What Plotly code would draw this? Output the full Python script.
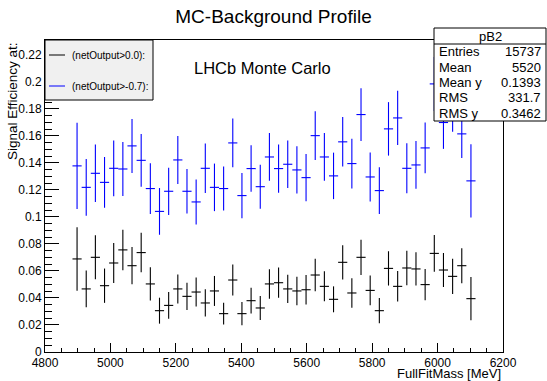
import plotly.graph_objects as go

# ---- data ----
bin_centers = [4898, 4926, 4954, 4982, 5010, 5038, 5066, 5094, 5122, 5150,
               5178, 5206, 5234, 5262, 5290, 5318, 5346, 5374, 5402, 5430,
               5458, 5486, 5514, 5542, 5570, 5598, 5626, 5654, 5682, 5710,
               5738, 5766, 5794, 5822, 5850, 5878, 5906, 5934, 5962, 5990,
               6018, 6046, 6074, 6102]
bin_half_width = [14] * len(bin_centers)

eff_07 = [0.1378, 0.1219, 0.1323, 0.1256, 0.1360, 0.1355, 0.1526, 0.1419, 0.1210, 0.1041,
          0.1190, 0.1422, 0.1190, 0.1111, 0.1360, 0.1219, 0.1210, 0.1548, 0.1158, 0.1358,
          0.1224, 0.1444, 0.1358, 0.1390, 0.1348, 0.1291, 0.1602, 0.1444, 0.1304, 0.1556,
          0.1395, 0.1758, 0.1296, 0.1195, 0.1652, 0.1733, 0.1360, 0.1385, 0.1511, 0.1985,
          0.1699, 0.1830, 0.1615, 0.1267]
err_07 = [0.0320, 0.0210, 0.0213, 0.0188, 0.0206, 0.0200, 0.0200, 0.0195, 0.0188, 0.0173,
          0.0175, 0.0178, 0.0165, 0.0167, 0.0183, 0.0176, 0.0163, 0.0181, 0.0167, 0.0172,
          0.0163, 0.0177, 0.0179, 0.0175, 0.0175, 0.0175, 0.0181, 0.0177, 0.0172, 0.0183,
          0.0184, 0.0195, 0.0181, 0.0173, 0.0198, 0.0201, 0.0185, 0.0177, 0.0188, 0.0200,
          0.0195, 0.0200, 0.0178, 0.0272]

eff_00 = [0.0689, 0.0467, 0.0701, 0.0491, 0.0659, 0.0756, 0.0639, 0.0736, 0.0504, 0.0306,
          0.0345, 0.0467, 0.0412, 0.0444, 0.0363, 0.0452, 0.0284, 0.0533, 0.0284, 0.0380,
          0.0326, 0.0504, 0.0513, 0.0467, 0.0452, 0.0461, 0.0570, 0.0486, 0.0390, 0.0664,
          0.0437, 0.0701, 0.0456, 0.0306, 0.0619, 0.0486, 0.0622, 0.0615, 0.0499, 0.0730,
          0.0607, 0.0560, 0.0639, 0.0395]
err_00 = [0.0235, 0.0136, 0.0163, 0.0127, 0.0148, 0.0150, 0.0138, 0.0146, 0.0123, 0.0096,
          0.0099, 0.0107, 0.0101, 0.0107, 0.0101, 0.0111, 0.0081, 0.0115, 0.0086, 0.0095,
          0.0089, 0.0109, 0.0112, 0.0105, 0.0106, 0.0109, 0.0120, 0.0111, 0.0096, 0.0127,
          0.0109, 0.0131, 0.0110, 0.0094, 0.0127, 0.0113, 0.0127, 0.0123, 0.0116, 0.0136,
          0.0126, 0.0130, 0.0130, 0.0160]

legend_labels = ["(netOutput>0.0):", "(netOutput>-0.7):"]
stats_names = ["Entries", "Mean", "Mean y", "RMS", "RMS y"]
stats_values = ["15737", "5520", "0.1393", "331.7", "0.3462"]

FONT = "Liberation Sans, Arial, Helvetica, sans-serif"
W, H = 547, 381
L, R, T, B = 45, 44, 40, 29
PW, PH = W - L - R, H - T - B


def xp(px):
    return (px - L) / PW


def yp(py):
    return (H - B - py) / PH


fig = go.Figure()
for vals, errs, col in [(eff_00, err_00, "#000000"), (eff_07, err_07, "#0000ff")]:
    fig.add_trace(go.Scatter(
        x=bin_centers, y=vals, mode="markers",
        marker=dict(size=0.1, color=col, opacity=0),
        error_y=dict(type="data", array=errs, visible=True, color=col, thickness=1.1, width=0),
        error_x=dict(type="data", array=bin_half_width, visible=True, color=col, thickness=1.1, width=0),
        showlegend=False, hoverinfo="skip",
    ))

axis_common = dict(showline=True, linecolor="#000000", linewidth=1, mirror=True,
                   ticks="inside", tickcolor="#000000", showgrid=False, zeroline=False,
                   tickfont=dict(family=FONT, size=12, color="#000000"))

fig.update_layout(
    width=W, height=H,
    margin=dict(l=L, r=R, t=T, b=B),
    paper_bgcolor="white", plot_bgcolor="white",
    showlegend=False,
    title=dict(text="MC-Background Profile", x=0.5, xref="container", xanchor="center",
               y=1 - 16 / H, yref="container", yanchor="middle",
               font=dict(family=FONT, size=19, color="#000000")),
    xaxis=dict(range=[4800, 6200], dtick=200, tick0=4800, ticklen=9,
               minor=dict(dtick=50, ticklen=4.5, ticks="inside", tickcolor="#000000"),
               **axis_common),
    yaxis=dict(range=[0, 0.231], dtick=0.02, tick0=0, ticklen=13.5,
               minor=dict(dtick=0.005, ticklen=6.8, ticks="inside", tickcolor="#000000"),
               **axis_common),
)

shapes = []
annotations = []

# axis titles
annotations.append(dict(text="FullFitMass [MeV]", xref="paper", yref="paper",
                        x=1, y=yp(373), xanchor="right", yanchor="middle", showarrow=False,
                        font=dict(family=FONT, size=13, color="#000000")))
annotations.append(dict(text="Signal Efficiency at:", xref="paper", yref="paper",
                        x=xp(12), y=1, xanchor="center", yanchor="top", textangle=-90,
                        showarrow=False, font=dict(family=FONT, size=13.5, color="#000000")))

# LHCb label
annotations.append(dict(text="LHCb Monte Carlo", xref="paper", yref="paper",
                        x=xp(262), y=yp(68), xanchor="center", yanchor="middle", showarrow=False,
                        font=dict(family=FONT, size=16.5, color="#000000")))

# legend box
shapes.append(dict(type="rect", xref="paper", yref="paper",
                   x0=xp(45), x1=xp(153), y0=yp(100), y1=yp(40),
                   fillcolor="#f0f0f0", line=dict(color="#000000", width=1), layer="above"))
for lab, col, py in [(legend_labels[0], "#000000", 55), (legend_labels[1], "#0000ff", 86)]:
    shapes.append(dict(type="line", xref="paper", yref="paper",
                       x0=xp(49), x1=xp(65), y0=yp(py), y1=yp(py),
                       line=dict(color=col, width=1), layer="above"))
    annotations.append(dict(text=lab, xref="paper", yref="paper", x=xp(70), y=yp(py),
                            xanchor="left", yanchor="middle", showarrow=False,
                            font=dict(family=FONT, size=10, color="#000000")))

# stats box
shapes.append(dict(type="rect", xref="paper", yref="paper",
                   x0=xp(434), x1=xp(546), y0=yp(121), y1=yp(28),
                   fillcolor="white", line=dict(color="#000000", width=1), layer="above"))
shapes.append(dict(type="line", xref="paper", yref="paper",
                   x0=xp(434), x1=xp(546), y0=yp(44), y1=yp(44),
                   line=dict(color="#000000", width=1), layer="above"))
annotations.append(dict(text="pB2", xref="paper", yref="paper", x=xp(490), y=yp(36),
                        xanchor="center", yanchor="middle", showarrow=False,
                        font=dict(family=FONT, size=13, color="#000000")))
for i, (nm, val) in enumerate(zip(stats_names, stats_values)):
    py = 51.7 + 15.4 * i
    annotations.append(dict(text=nm, xref="paper", yref="paper", x=xp(437), y=yp(py),
                            xanchor="left", yanchor="middle", showarrow=False,
                            font=dict(family=FONT, size=13, color="#000000")))
    annotations.append(dict(text=val, xref="paper", yref="paper", x=xp(543), y=yp(py),
                            xanchor="right", yanchor="middle", showarrow=False,
                            font=dict(family=FONT, size=13, color="#000000")))

fig.update_layout(shapes=shapes, annotations=annotations)
fig.write_html("out.html", config={"displayModeBar": False},
               post_script="document.body.style.margin='0px';document.body.style.padding='0px';")
